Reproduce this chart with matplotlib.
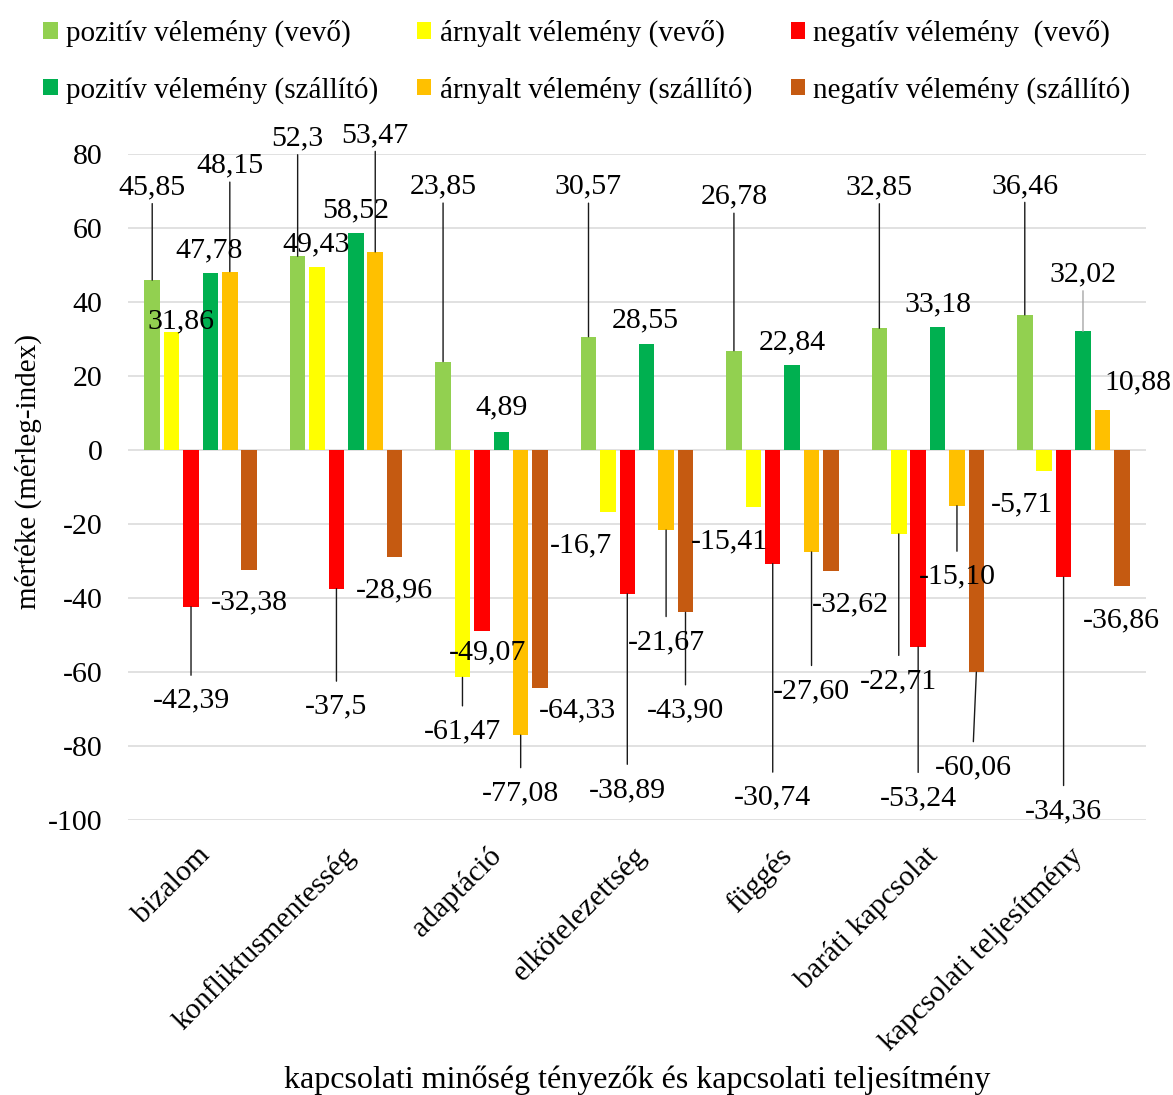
import matplotlib
matplotlib.use("Agg")
import matplotlib.pyplot as plt
from matplotlib.patches import Patch
from matplotlib.transforms import ScaledTranslation
import numpy as np

plt.rcParams["font.family"] = ["Liberation Serif", "DejaVu Serif"]

# --- data -------------------------------------------------------------
categories = ["bizalom", "konfliktusmentesség", "adaptáció", "elkötelezettség",
              "függés", "baráti kapcsolat", "kapcsolati teljesítmény"]

series_names = ["pozitív vélemény (vevő)", "árnyalt vélemény (vevő)",
                "negatív vélemény  (vevő)", "pozitív vélemény (szállító)",
                "árnyalt vélemény (szállító)", "negatív vélemény (szállító)"]

pozitiv_vevo = ["45,85", "52,3", "23,85", "30,57", "26,78", "32,85", "36,46"]
arnyalt_vevo = ["31,86", "49,43", "-61,47", "-16,7", "-15,41", "-22,71", "-5,71"]
negativ_vevo = ["-42,39", "-37,5", "-49,07", "-38,89", "-30,74", "-53,24", "-34,36"]
pozitiv_szallito = ["47,78", "58,52", "4,89", "28,55", "22,84", "33,18", "32,02"]
arnyalt_szallito = ["48,15", "53,47", "-77,08", "-21,67", "-27,60", "-15,10", "10,88"]
negativ_szallito = ["-32,38", "-28,96", "-64,33", "-43,90", "-32,62", "-60,06", "-36,86"]

yticks = list(range(-100, 81, 20))

# --- styling / layout ---------------------------------------------------
colors = ["#92D050", "#FFFF00", "#FF0000", "#00B050", "#FFC000", "#C55A11"]
FS = 21.5        # tick and data labels
FS_LEG = 21.0    # legend entries
FS_TITLE = 23.0  # x axis title
FS_YT = 21.0     # y axis title
DPI = 100

# label offsets (pixels, x right / y up) from each bar's end, per category
label_offsets = [
    [(0, 96), (9, 14), (0, -91), (-1, 26), (0, 109), (0, -30)],
    [(0, 121), (-1, 26), (0, -115), (0, 26), (0, 120), (0, -30)],
    [(0, 178), (0, -51), (6, -18), (0, 27), (0, -55), (37, -19)],
    [(0, 153), (-27, -31), (0, -193), (-1, 27), (0, -109), (0, -95)],
    [(0, 157), (-24, -31), (0, -231), (0, 26), (0, -136), (19, -31)],
    [(0, 144), (0, -144), (0, -148), (0, 26), (0, -68), (-3, -92)],
    [(0, 132), (-22, -30), (0, -231), (0, 60), (35, 30), (0, -31)],
]
light_leaders = {(6, 3)}

series_text = [pozitiv_vevo, arnyalt_vevo, negativ_vevo,
               pozitiv_szallito, arnyalt_szallito, negativ_szallito]
series_vals = [[float(s.replace(",", ".")) for s in col] for col in series_text]

W, H = 1173, 1095
fig = plt.figure(figsize=(W / DPI, H / DPI), dpi=DPI)
ax = fig.add_axes([128 / W, 1 - 820 / H, 1018 / W, (820 - 153.7) / H])

x = np.arange(len(categories))
pitch = 0.1334
width = 0.1066
for j, (vals, col) in enumerate(zip(series_vals, colors)):
    ax.bar(x + (j - 2.5) * pitch, vals, width=width, color=col,
           linewidth=0, zorder=2)

ax.set_xlim(-0.5, len(categories) - 0.5)
ax.set_ylim(-100, 80)
ax.set_yticks(yticks)
ax.set_yticklabels([str(t) for t in yticks], fontsize=FS)
ax.yaxis.grid(True, color="#D9D9D9", linewidth=1.1, zorder=0)
ax.set_axisbelow(True)
for sp in ax.spines.values():
    sp.set_visible(False)
ax.tick_params(axis="y", length=0, pad=18.5)
ax.tick_params(axis="x", length=0, pad=16)

ax.set_xticks(x)
ax.set_xticklabels(categories, fontsize=FS, rotation=45, ha="right",
                   va="top", rotation_mode="anchor")
shift = ScaledTranslation(-4 / DPI, 0, fig.dpi_scale_trans)
for lab in ax.get_xticklabels():
    lab.set_transform(lab.get_transform() + shift)

# data labels with leader lines
half_digit = 0.676 * FS * DPI / 72 / 2
for i in range(len(categories)):
    for j in range(6):
        v = series_vals[j][i]
        bx = x[i] + (j - 2.5) * pitch
        dx, dy = label_offsets[i][j]
        ax.annotate(series_text[j][i], xy=(bx, v), xytext=(dx, dy - half_digit),
                    textcoords="offset pixels", ha="center", va="baseline",
                    fontsize=FS, color="black", zorder=5, annotation_clip=False)
        if abs(dy) > 40:
            end = dy - 19.5 if dy > 0 else dy + 22.5
            lc = "#A6A6A6" if (i, j) in light_leaders else "#1A1A1A"
            ax.annotate("", xy=(bx, v), xytext=(dx, end),
                        textcoords="offset pixels", annotation_clip=False,
                        arrowprops=dict(arrowstyle="-", color=lc, lw=1.0,
                                        shrinkA=0, shrinkB=0), zorder=4)

# axis titles
fig.text(28 / W, 1 - 472 / H, "mértéke (mérleg-index)", rotation=90,
         ha="center", va="center", fontsize=FS_YT)
fig.text(637 / W, 1 - 1088 / H,
         "kapcsolati minőség tényezők és kapcsolati teljesítmény",
         ha="center", va="baseline", fontsize=FS_TITLE)

# legend: rows by opinion source, columns by opinion type
order = [0, 3, 1, 4, 2, 5]
handles = [Patch(facecolor=colors[k], edgecolor="none") for k in order]
labels = [series_names[k] for k in order]
fig.legend(handles, labels, ncol=3, loc="upper left",
           bbox_to_anchor=(43 / W, 1 - 20 / H), frameon=False, fontsize=FS_LEG,
           handlelength=0.5, handleheight=0.5, handletextpad=0.28,
           columnspacing=1.33, labelspacing=1.0, borderpad=0, borderaxespad=0)

fig.savefig("out.png", dpi=DPI)
